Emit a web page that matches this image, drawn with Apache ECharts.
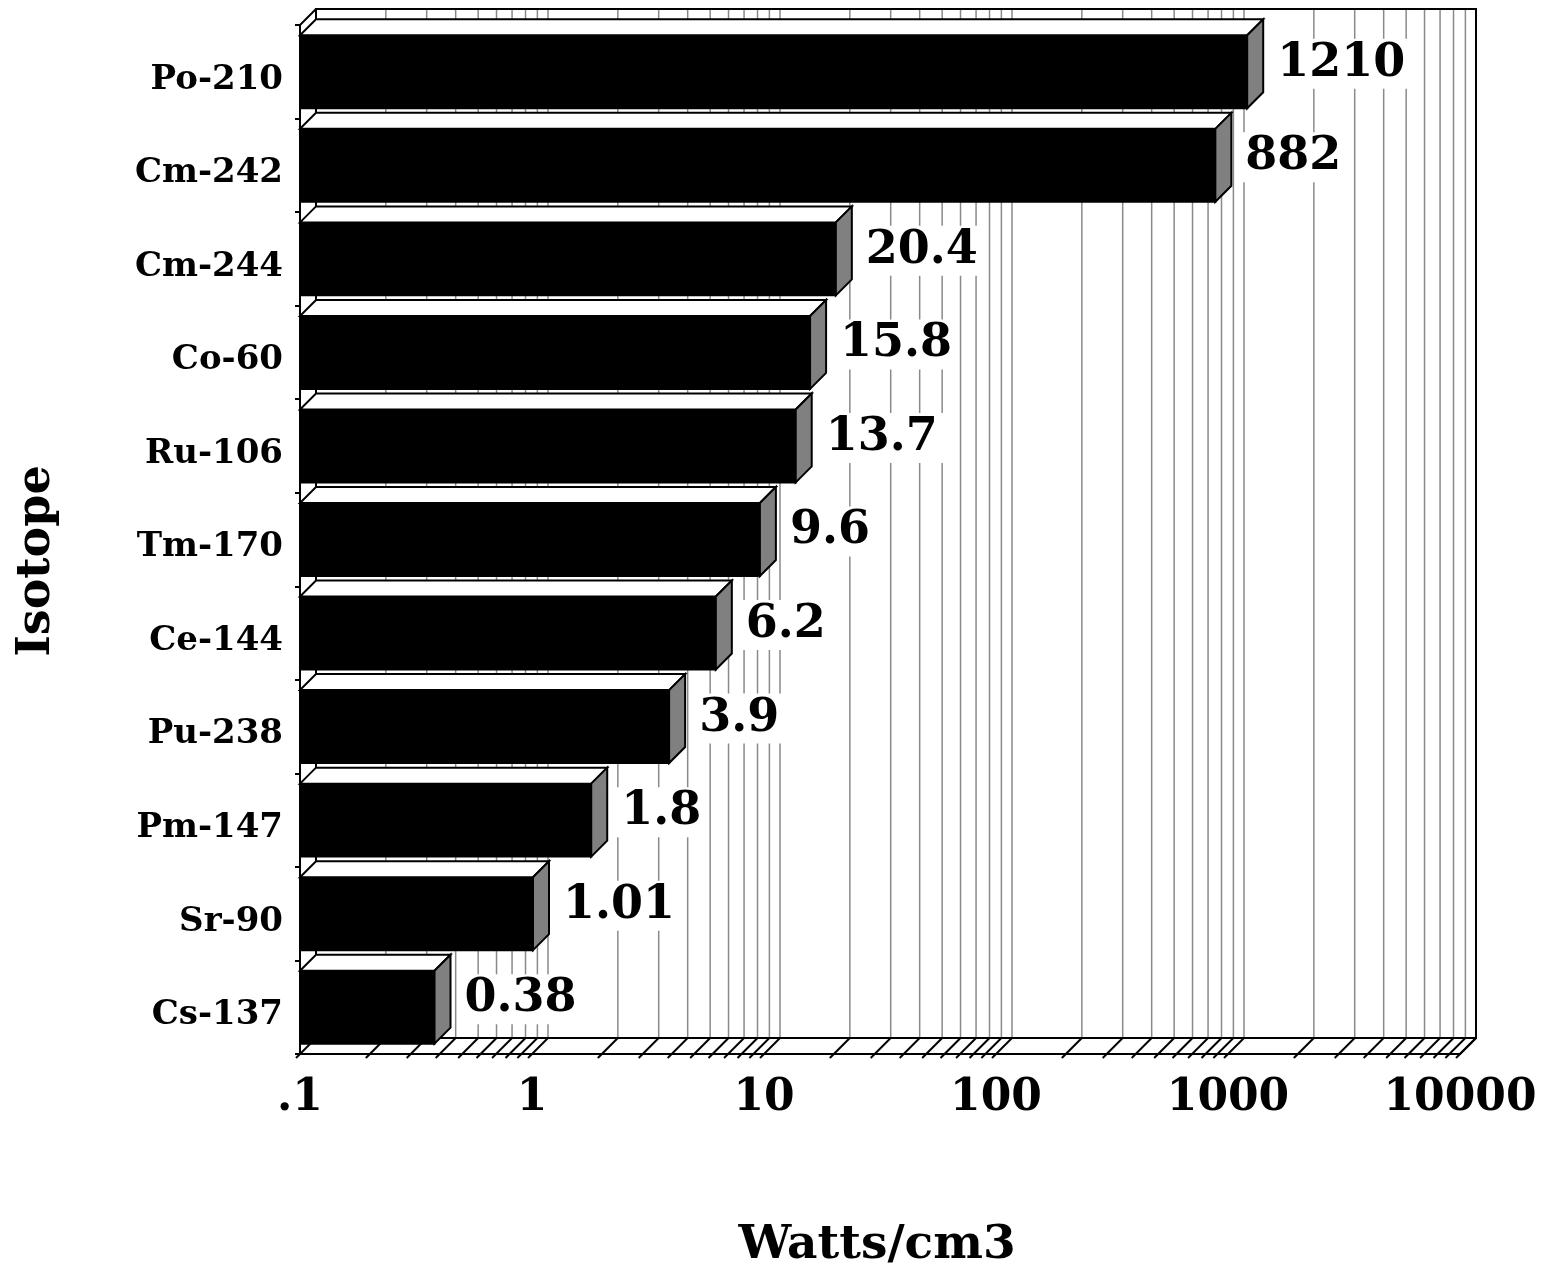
<!DOCTYPE html>
<html>
<head>
<meta charset="utf-8">
<script src="https://cdn.jsdelivr.net/npm/echarts@6/dist/echarts.min.js"></script>
<style>
  html, body { margin: 0; padding: 0; background: #fff; }
  #chart { width: 1553px; height: 1271px; }
</style>
</head>
<body>
<div id="chart"></div>
<script>
// Power density of radioisotopes (W/cm3), top to bottom
const isotopes = ['Po-210', 'Cm-242', 'Cm-244', 'Co-60', 'Ru-106', 'Tm-170', 'Ce-144', 'Pu-238', 'Pm-147', 'Sr-90', 'Cs-137'];
const wattsPerCm3 = [1210, 882, 20.4, 15.8, 13.7, 9.6, 6.2, 3.9, 1.8, 1.01, 0.38];

// Logarithmic x axis decades and their printed labels
const xTickValues = [0.1, 1, 10, 100, 1000, 10000];
const xTickLabels = ['.1', '1', '10', '100', '1000', '10000'];

const xTitle = 'Watts/cm3';
const yTitle = 'Isotope';

const FONT = '"DejaVu Serif", "Liberation Serif", serif';
const DEPTH = 16;          // 3D depth offset in pixels
const GRID_COLOR = '#8a8a8a';
const SIDE_COLOR = '#808080';

// every decade step (1..9 × decade) gets a grid line on the back wall
const gridValues = [];
for (let i = 0; i < xTickValues.length - 1; i++) {
  for (let k = 1; k < 10; k++) gridValues.push(xTickValues[i] * k);
}
gridValues.push(xTickValues[xTickValues.length - 1]);

function tickLabel(v) {
  let best = 0, bestDiff = Infinity;
  xTickValues.forEach((t, i) => {
    const d = Math.abs(Math.log10(v) - Math.log10(t));
    if (d < bestDiff) { bestDiff = d; best = i; }
  });
  return bestDiff < 1e-6 ? xTickLabels[best] : '';
}

function seg(x1, y1, x2, y2, stroke, lw) {
  return { type: 'line', silent: true, shape: { x1, y1, x2, y2 }, style: { stroke, lineWidth: lw } };
}

// Back wall, grid lines and floor of the 3D box
function renderFrame(params, api) {
  const cs = params.coordSys;
  const left = cs.x, top = cs.y, right = cs.x + cs.width, bottom = cs.y + cs.height;
  const d = DEPTH;
  const children = [];
  gridValues.forEach(v => {
    const x = api.coord([v, 0])[0];
    children.push(seg(x + d, top - d, x + d, bottom - d, GRID_COLOR, 1.5));
  });
  gridValues.forEach(v => {
    const x = api.coord([v, 0])[0];
    children.push(seg(x - 4, bottom + 4, x + d, bottom - d, '#000', 2));
  });
  children.push({
    type: 'rect', silent: true,
    shape: { x: left + d, y: top - d, width: cs.width, height: cs.height },
    style: { fill: null, stroke: '#000', lineWidth: 2 }
  });
  children.push(seg(left, top, left + d, top - d, '#000', 2));
  children.push(seg(right, bottom, right + d, bottom - d, '#000', 2));
  return { type: 'group', children };
}

// One extruded bar with its value label
function renderBar(params, api) {
  const cs = params.coordSys;
  const d = DEPTH;
  const v = api.value(0);
  const cat = api.value(1);
  const base = api.coord([xTickValues[0], cat]);
  const end = api.coord([v, cat]);
  const band = cs.height / isotopes.length;
  const h = band * 0.78;
  const x0 = base[0], x1 = end[0];
  const yTop = end[1] - h / 2, yBot = end[1] + h / 2;
  return {
    type: 'group',
    children: [
      {
        type: 'rect',
        shape: { x: x0, y: yTop, width: x1 - x0, height: h },
        style: { fill: '#000', stroke: '#000', lineWidth: 2 }
      },
      {
        type: 'polygon',
        shape: { points: [[x0, yTop], [x1, yTop], [x1 + d, yTop - d], [x0 + d, yTop - d]] },
        style: { fill: '#fff', stroke: '#000', lineWidth: 2, lineJoin: 'miter' }
      },
      {
        type: 'polygon',
        shape: { points: [[x1, yTop], [x1 + d, yTop - d], [x1 + d, yBot - d], [x1, yBot]] },
        style: { fill: SIDE_COLOR, stroke: '#000', lineWidth: 2, lineJoin: 'miter' }
      },
      {
        type: 'text',
        x: x1 + d + 8,
        y: end[1] - d / 2,
        style: {
          text: String(wattsPerCm3[params.dataIndex]),
          font: 'bold 46px ' + FONT,
          fill: '#000',
          align: 'left',
          verticalAlign: 'middle',
          backgroundColor: '#fff',
          padding: [2, 6, 2, 6]
        }
      }
    ]
  };
}

const chart = echarts.init(document.getElementById('chart'), null, { renderer: 'canvas' });

chart.setOption({
  animation: false,
  backgroundColor: '#fff',
  grid: { left: 300, right: 93, top: 25, bottom: 217, containLabel: false, outerBoundsMode: 'none' },
  xAxis: {
    type: 'log',
    logBase: 10,
    min: xTickValues[0],
    max: xTickValues[xTickValues.length - 1],
    axisLine: { show: true, onZero: false, lineStyle: { color: '#000', width: 2 } },
    axisTick: { show: false },
    splitLine: { show: false },
    minorTick: { show: false },
    minorSplitLine: { show: false },
    axisLabel: {
      formatter: tickLabel,
      fontFamily: FONT,
      fontWeight: 'bold',
      fontSize: 44,
      color: '#000',
      margin: 23,
      hideOverlap: false,
      showMinLabel: true,
      showMaxLabel: true
    }
  },
  yAxis: {
    type: 'category',
    data: isotopes,
    inverse: true,
    axisLine: { show: true, onZero: false, lineStyle: { color: '#000', width: 2 } },
    axisTick: { show: true, length: 5, lineStyle: { color: '#000', width: 2 } },
    splitLine: { show: false },
    axisLabel: {
      fontFamily: FONT,
      fontWeight: 'bold',
      fontSize: 34,
      color: '#000',
      margin: 17,
      verticalAlign: 'top',
      lineHeight: 16,
      interval: 0
    }
  },
  series: [
    {
      type: 'custom',
      name: 'frame',
      coordinateSystem: 'cartesian2d',
      renderItem: renderFrame,
      data: [[xTickValues[0], 0]],
      silent: true,
      z: 1,
      clip: false
    },
    {
      type: 'custom',
      name: yTitle,
      coordinateSystem: 'cartesian2d',
      renderItem: renderBar,
      encode: { x: 0, y: 1 },
      data: wattsPerCm3.map((v, i) => [v, i]),
      z: 3,
      clip: false
    }
  ],
  graphic: [
    {
      type: 'text',
      x: 877, y: 1246,
      style: { text: xTitle, font: 'bold 47px ' + FONT, fill: '#000', align: 'center', verticalAlign: 'middle' }
    },
    {
      type: 'text',
      x: 37, y: 561,
      rotation: Math.PI / 2,
      style: { text: yTitle, font: 'bold 46px ' + FONT, fill: '#000', align: 'center', verticalAlign: 'middle' }
    }
  ]
});
</script>
</body>
</html>
